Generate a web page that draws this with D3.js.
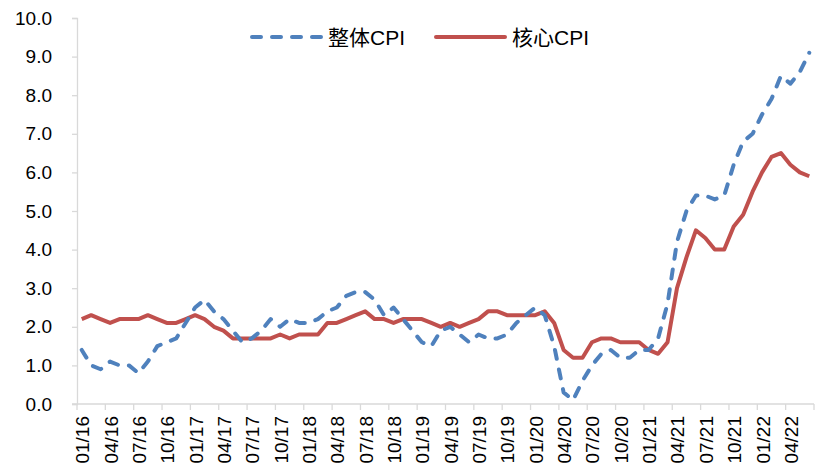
<!DOCTYPE html>
<html>
<head>
<meta charset="utf-8">
<script src="https://cdn.jsdelivr.net/npm/d3@7"></script>
<style>
	body { margin: 0; background: #fff; }
	svg { display: block; font-family: "Liberation Sans", Arial, "Noto Sans CJK SC", sans-serif; }
</style>
</head>
<body>
<div id="corpo"></div>
<script>
/* dados: CPI EUA, variação anual (%) 01/2016 - 06/2022 */
var meses = [];
for (var a = 16; a <= 22; a++) {
	for (var m = 1; m <= 12; m++) {
		if (a === 22 && m > 6) break;
		meses.push((m < 10 ? "0" + m : "" + m) + "/" + a);
	}
}

var cpiTotal = [
	1.4, 1.0, 0.9, 1.1, 1.0, 1.0, 0.8, 1.1, 1.5, 1.6, 1.7, 2.1,
	2.5, 2.7, 2.4, 2.2, 1.9, 1.6, 1.7, 1.9, 2.2, 2.0, 2.2, 2.1,
	2.1, 2.2, 2.4, 2.5, 2.8, 2.9, 2.9, 2.7, 2.3, 2.5, 2.2, 1.9,
	1.6, 1.5, 1.9, 2.0, 1.8, 1.6, 1.8, 1.7, 1.7, 1.8, 2.1, 2.3,
	2.5, 2.3, 1.5, 0.3, 0.1, 0.6, 1.0, 1.3, 1.4, 1.2, 1.2, 1.4,
	1.4, 1.7, 2.6, 4.2, 5.0, 5.4, 5.4, 5.3, 5.4, 6.2, 6.8, 7.0,
	7.5, 7.9, 8.5, 8.3, 8.6, 9.1
];

var cpiNucleo = [
	2.2, 2.3, 2.2, 2.1, 2.2, 2.2, 2.2, 2.3, 2.2, 2.1, 2.1, 2.2,
	2.3, 2.2, 2.0, 1.9, 1.7, 1.7, 1.7, 1.7, 1.7, 1.8, 1.7, 1.8,
	1.8, 1.8, 2.1, 2.1, 2.2, 2.3, 2.4, 2.2, 2.2, 2.1, 2.2, 2.2,
	2.2, 2.1, 2.0, 2.1, 2.0, 2.1, 2.2, 2.4, 2.4, 2.3, 2.3, 2.3,
	2.3, 2.4, 2.1, 1.4, 1.2, 1.2, 1.6, 1.7, 1.7, 1.6, 1.6, 1.6,
	1.4, 1.3, 1.6, 3.0, 3.8, 4.5, 4.3, 4.0, 4.0, 4.6, 4.9, 5.5,
	6.0, 6.4, 6.5, 6.2, 6.0, 5.9
];

var yTicks = [0, 1, 2, 3, 4, 5, 6, 7, 8, 9, 10];
var nomeTotal = "整体CPI";
var nomeNucleo = "核心CPI";

var width = 816, height = 470;
var margin = { left: 77, right: 2, top: 18, bottom: 66 };

var svg = d3.select("#corpo").append("svg")
	.attr("width", width)
	.attr("height", height);

var x = d3.scaleBand()
	.domain(meses)
	.range([margin.left, width - margin.right]);

var y = d3.scaleLinear()
	.domain([0, 10])
	.range([height - margin.bottom, margin.top]);

var axisColor = "#d9d9d9";

/*=== eixo y ===*/
var yAxis = svg.append("g")
	.attr("transform", "translate(" + margin.left + ",0)")
	.call(d3.axisLeft(y).tickValues(yTicks).tickSize(5).tickPadding(20)
		.tickFormat(d3.format(".1f")));
yAxis.selectAll("path, line").attr("stroke", axisColor).attr("stroke-width", 1.3);
yAxis.selectAll("text").attr("font-size", 19).attr("fill", "#000");

/*=== eixo x: marcas a cada 3 meses, rotulos no centro da categoria ===*/
var trimestre = meses.filter(function(d, i) { return i % 3 === 0; });

var xAxis = svg.append("g").attr("class", "xaxis");
xAxis.append("line")
	.attr("x1", margin.left - 5)
	.attr("x2", width - margin.right)
	.attr("y1", y(0))
	.attr("y2", y(0))
	.attr("stroke", axisColor)
	.attr("stroke-width", 1.3);

var tickPos = trimestre.map(function(d) { return x(d); });
tickPos.push(x.range()[1]);
xAxis.selectAll("line.tick")
	.data(tickPos)
	.enter().append("line")
	.attr("class", "tick")
	.attr("x1", function(d) { return d; })
	.attr("x2", function(d) { return d; })
	.attr("y1", y(0))
	.attr("y2", y(0) + 6)
	.attr("stroke", axisColor)
	.attr("stroke-width", 1.3);

xAxis.selectAll("text")
	.data(trimestre)
	.enter().append("text")
	.attr("transform", function(d) {
		return "translate(" + (x(d) + x.bandwidth() / 2 + 7.5) + "," + (y(0) + 12) + ") rotate(-90)";
	})
	.attr("text-anchor", "end")
	.attr("font-size", 19)
	.attr("fill", "#000")
	.text(function(d) { return d; });

/*=== linhas ===*/
var line = d3.line()
	.x(function(d, i) { return x(meses[i]) + x.bandwidth() / 2; })
	.y(function(d) { return y(d); });

svg.append("path")
	.datum(cpiNucleo)
	.attr("d", line)
	.attr("fill", "none")
	.attr("stroke", "#c0504d")
	.attr("stroke-width", 4)
	.attr("stroke-linejoin", "round");

svg.append("path")
	.datum(cpiTotal)
	.attr("d", line)
	.attr("fill", "none")
	.attr("stroke", "#4f81bd")
	.attr("stroke-width", 4)
	.attr("stroke-dasharray", "9,11")
	.attr("stroke-linecap", "round")
	.attr("stroke-linejoin", "round");

/*=== legenda ===*/
var legenda = [
	{ nome: nomeTotal, cor: "#4f81bd", dash: "9,11", x: 252 },
	{ nome: nomeNucleo, cor: "#c0504d", dash: null, x: 436 }
];

var leg = svg.selectAll("g.leg")
	.data(legenda)
	.enter().append("g")
	.attr("class", "leg")
	.attr("transform", function(d) { return "translate(" + d.x + ",37)"; });

leg.append("line")
	.attr("x1", 0)
	.attr("x2", 69)
	.attr("stroke", function(d) { return d.cor; })
	.attr("stroke-width", 4)
	.attr("stroke-linecap", "round")
	.attr("stroke-dasharray", function(d) { return d.dash; });

leg.append("text")
	.attr("x", 76)
	.attr("dy", "0.36em")
	.attr("font-size", 21)
	.attr("fill", "#000")
	.text(function(d) { return d.nome; });
</script>
</body>
</html>
